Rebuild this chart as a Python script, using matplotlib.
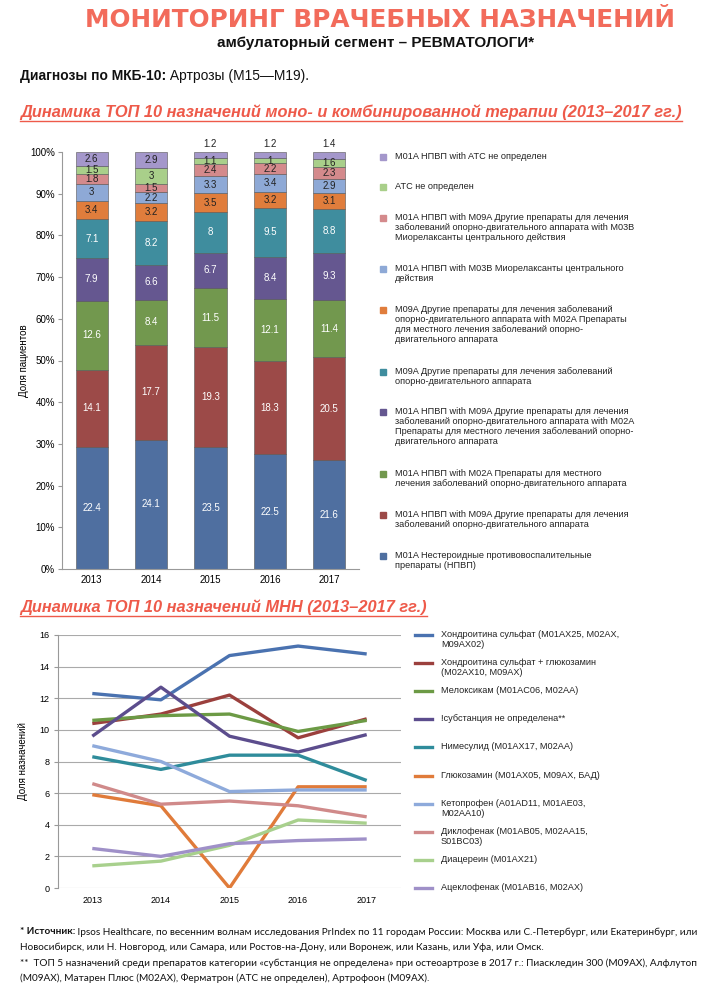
import matplotlib
matplotlib.use('Agg')
import matplotlib.pyplot as plt
from matplotlib.lines import Line2D
from matplotlib.patches import Rectangle
import numpy as np

W, H = 720, 985

years = ['2013', '2014', '2015', '2016', '2017']

# верхний график: доли (ярлыки), снизу вверх
nsaid = [22.4, 24.1, 23.5, 22.5, 21.6]
nsaid_m09a = [14.1, 17.7, 19.3, 18.3, 20.5]
nsaid_m02a = [12.6, 8.4, 11.5, 12.1, 11.4]
nsaid_m09a_m02a = [7.9, 6.6, 6.7, 8.4, 9.3]
m09a = [7.1, 8.2, 8.0, 9.5, 8.8]
m09a_m02a = [3.4, 3.2, 3.5, 3.2, 3.1]
nsaid_m03b = [3.0, 2.2, 3.3, 3.4, 2.9]
nsaid_m09a_m03b = [1.8, 1.5, 2.4, 2.2, 2.3]
atc_undef = [1.5, 3.0, 1.1, 1.0, 1.6]
nsaid_atc_undef = [2.6, 2.9, 1.2, 1.2, 1.4]

bar_series = [nsaid, nsaid_m09a, nsaid_m02a, nsaid_m09a_m02a, m09a,
              m09a_m02a, nsaid_m03b, nsaid_m09a_m03b, atc_undef, nsaid_atc_undef]
bar_names = [
    'M01A Нестероидные противовоспалительные\nпрепараты (НПВП)',
    'M01A НПВП with M09A Другие препараты для лечения\nзаболеваний опорно-двигательного аппарата',
    'M01A НПВП with M02A Препараты для местного\nлечения заболеваний опорно-двигательного аппарата',
    'M01A НПВП with M09A Другие препараты для лечения\nзаболеваний опорно-двигательного аппарата with M02A\nПрепараты для местного лечения заболеваний опорно-\nдвигательного аппарата',
    'M09A Другие препараты для лечения заболеваний\nопорно-двигательного аппарата',
    'M09A Другие препараты для лечения заболеваний\nопорно-двигательного аппарата with M02A Препараты\nдля местного лечения заболеваний опорно-\nдвигательного аппарата',
    'M01A НПВП with M03B Миорелаксанты центрального\nдействия',
    'M01A НПВП with M09A Другие препараты для лечения\nзаболеваний опорно-двигательного аппарата with M03B\nМиорелаксанты центрального действия',
    'ATC не определен',
    'M01A НПВП with ATC не определен',
]
bar_colors = ['#4f6fa0', '#9c4a48', '#72984e', '#655790', '#3f8d9e',
              '#e07d3c', '#8ea9d6', '#d48a8c', '#a9cf8a', '#a497cb']
label_dark = [False, False, False, False, False, True, True, True, True, True]

# нижний график: МНН
mnn_names = [
    'Хондроитина сульфат (M01AX25, M02AX,\nM09AX02)',
    'Хондроитина сульфат + глюкозамин\n(M02AX10, M09AX)',
    'Мелоксикам (M01AC06, M02AA)',
    '!субстанция не определена**',
    'Нимесулид (M01AX17, M02AA)',
    'Глюкозамин (M01AX05, M09AX, БАД)',
    'Кетопрофен (A01AD11, M01AE03,\nM02AA10)',
    'Диклофенак (M01AB05, M02AA15,\nS01BC03)',
    'Диацереин (M01AX21)',
    'Ацеклофенак (M01AB16, M02AX)',
]
chondroitin = [12.3, 11.9, 14.7, 15.3, 14.8]
chondro_glucosamine = [10.4, 11.0, 12.2, 9.5, 10.7]
meloxicam = [10.6, 10.9, 11.0, 9.9, 10.6]
undefined_subst = [9.6, 12.7, 9.6, 8.6, 9.7]
nimesulide = [8.3, 7.5, 8.4, 8.4, 6.8]
glucosamine = [5.9, 5.2, 0.0, 6.4, 6.4]
ketoprofen = [9.0, 8.0, 6.1, 6.2, 6.2]
diclofenac = [6.6, 5.3, 5.5, 5.2, 4.5]
diacerein = [1.4, 1.7, 2.7, 4.3, 4.1]
aceclofenac = [2.5, 2.0, 2.8, 3.0, 3.1]
mnn_series = [chondroitin, chondro_glucosamine, meloxicam, undefined_subst, nimesulide,
              glucosamine, ketoprofen, diclofenac, diacerein, aceclofenac]
mnn_colors = ['#4a72b0', '#9b403d', '#6c9a45', '#5c4d8d', '#2f8c9b',
              '#e07b3a', '#8eaadb', '#d08a8a', '#a8d08d', '#9f90c8']

SANS = ['Liberation Sans', 'DejaVu Sans']
plt.rcParams['font.family'] = SANS

fig = plt.figure(figsize=(W / 100, H / 100), dpi=100)


def fx(x):
    return x / W


def fy(y):
    return 1 - y / H


def px_ax(left, top, right, bottom):
    return fig.add_axes([fx(left), fy(bottom), (right - left) / W, (bottom - top) / H])


renderer = fig.canvas.get_renderer()


def text_width(t):
    return t.get_window_extent(renderer=renderer).width


def rich_line(x, y, parts, size, family, color='#111111'):
    # parts: [(text, bold)]
    for s, bold in parts:
        t = fig.text(fx(x), fy(y), s, fontsize=size, family=family,
                     fontweight='bold' if bold else 'normal', color=color, va='center')
        x += text_width(t)


def header(x, y, s):
    t = fig.text(fx(x), fy(y), s, fontsize=11.8, family=SANS, fontweight='bold',
                 fontstyle='italic', color='#ee5a4a', va='center')
    w = text_width(t)
    fig.add_artist(Line2D([fx(x), fx(x + w)], [fy(y + 9), fy(y + 9)],
                          color='#ee5a4a', lw=1.0))


# ---- шапка
fig.text(fx(380), fy(20), 'МОНИТОРИНГ ВРАЧЕБНЫХ НАЗНАЧЕНИЙ', fontsize=17.8, family='DejaVu Sans',
         fontweight='bold', color='#f26b5b', ha='center', va='center')
fig.text(fx(376), fy(43), 'амбулаторный сегмент – РЕВМАТОЛОГИ*', fontsize=11, family=SANS,
         fontweight='bold', color='#111111', ha='center', va='center')
rich_line(20, 76, [('Диагнозы по МКБ-10:', True), (' Артрозы (M15—M19).', False)], 10, SANS)
header(20, 112, 'Динамика ТОП 10 назначений моно- и комбинированной терапии (2013–2017 гг.)')
header(20, 607, 'Динамика ТОП 10 назначений МНН (2013–2017 гг.)')

# ---- столбцы 100%
ax1 = px_ax(62, 152, 359, 569)
data = np.array(bar_series)
totals = data.sum(axis=0)
shares = data / totals * 100
x = np.arange(len(years))
bottom = np.zeros(len(years))
for i, (sh, vals) in enumerate(zip(shares, data)):
    ax1.bar(x, sh, 0.54, bottom=bottom, color=bar_colors[i],
            edgecolor='#555555', linewidth=0.4)
    for j in range(len(years)):
        top_small = i == len(data) - 1 and sh[j] < 2
        if top_small:
            ax1.text(x[j], 100.8, f'{vals[j]:g}', ha='center', va='bottom',
                     fontsize=7, color='#222222')
        else:
            ax1.text(x[j], bottom[j] + sh[j] / 2, f'{vals[j]:g}', ha='center', va='center',
                     fontsize=7, color='#222222' if label_dark[i] else 'white')
    bottom += sh
ax1.set_xlim(-0.5, 4.5)
ax1.set_ylim(0, 100)
ax1.set_xticks(x, years, fontsize=7)
ax1.set_yticks(np.arange(0, 101, 10), [f'{v}%' for v in range(0, 101, 10)], fontsize=7)
for s in ['top', 'right']:
    ax1.spines[s].set_visible(False)
for s in ['left', 'bottom']:
    ax1.spines[s].set_color('#999999')
    ax1.spines[s].set_linewidth(0.8)
ax1.tick_params(axis='y', length=3, color='#999999', pad=2)
ax1.tick_params(axis='x', length=0, pad=4)
ax1.set_ylabel('Доля пациентов', fontsize=7, labelpad=1)

# легенда к столбцам (по порядку сверху вниз)
y = 157
for i in range(len(bar_names) - 1, -1, -1):
    fig.add_artist(Rectangle((fx(380), fy(y + 3)), 6 / W, 6 / H, color=bar_colors[i],
                             transform=fig.transFigure))
    fig.text(fx(395), fy(y - 5), bar_names[i], fontsize=6.6, va='top', ha='left',
             linespacing=1.15, color='#222222')
    y += (bar_names[i].count('\n') + 1) * 10.5 + 19.8

# ---- линии МНН
ax2 = px_ax(58, 635, 401, 888)
for vals, c in zip(mnn_series, mnn_colors):
    ax2.plot(x, vals, color=c, lw=2.4, solid_capstyle='butt')
ax2.set_xlim(-0.5, 4.5)
ax2.set_ylim(0, 16)
ax2.set_xticks(x, years, fontsize=6.5)
ax2.set_yticks(np.arange(0, 17, 2), [str(v) for v in range(0, 17, 2)], fontsize=6.5)
ax2.grid(axis='y', color='#aaaaaa', lw=0.8)
ax2.set_axisbelow(True)
for s in ['top', 'right', 'bottom']:
    ax2.spines[s].set_visible(False)
ax2.spines['left'].set_color('#999999')
ax2.tick_params(axis='y', length=3, color='#999999', pad=3)
ax2.tick_params(axis='x', length=0, pad=6)
ax2.set_ylabel('Доля назначений', fontsize=7, labelpad=8)

for k, (name, c) in enumerate(zip(mnn_names, mnn_colors)):
    yy = 635 + k * 28.1
    fig.add_artist(Line2D([fx(415), fx(432)], [fy(yy), fy(yy)], color=c, lw=2.4))
    fig.text(fx(441), fy(yy - 5), name, fontsize=6.6, va='top', ha='left',
             linespacing=1.15, color='#222222')

# ---- сноски
FOOT = ['Lato', 'DejaVu Sans']
rich_line(20, 932, [('* Источник:', True),
                    (' Ipsos Healthcare, по весенним волнам исследования PrIndex по 11 городам России: '
                     'Москва или С.-Петербург, или Екатеринбург, или', False)], 7.2, FOOT)
rich_line(20, 947, [('Новосибирск, или Н. Новгород, или Самара, или Ростов-на-Дону, или Воронеж, '
                     'или Казань, или Уфа, или Омск.', False)], 7.2, FOOT)
rich_line(20, 963, [('**  ТОП 5 назначений среди препаратов категории «субстанция не определена» '
                     'при остеоартрозе в 2017 г.: Пиаскледин 300 (M09AX), Алфлутоп', False)], 7.2, FOOT)
rich_line(20, 978, [('(M09AX), Матарен Плюс (M02AX), Ферматрон (ATC не определен), '
                     'Артрофоон (M09AX).', False)], 7.2, FOOT)

fig.savefig('out.png', dpi=100)
